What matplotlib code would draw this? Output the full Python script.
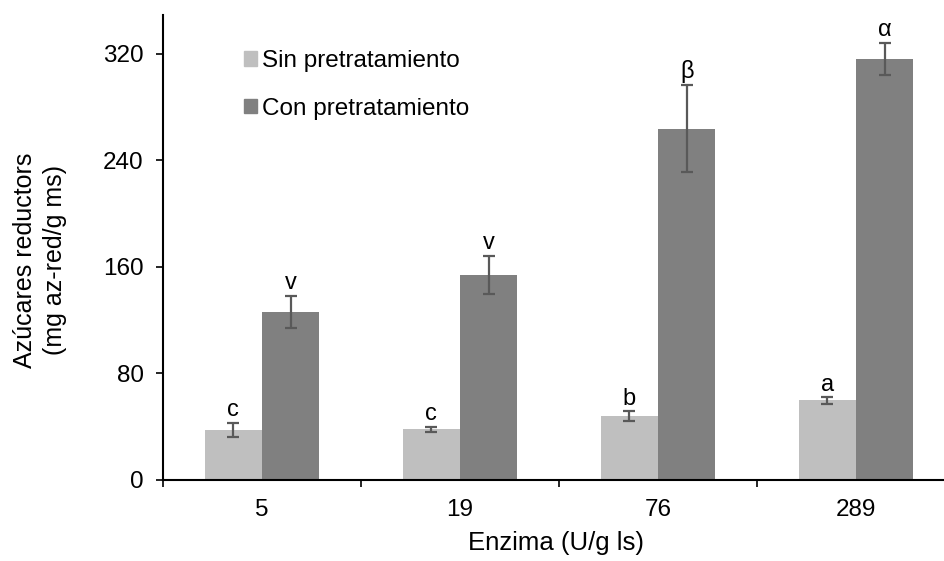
import numpy as np
import matplotlib
matplotlib.use("Agg")
import matplotlib.pyplot as plt
from matplotlib.patches import Patch

plt.rcParams['font.family'] = ['Liberation Sans', 'DejaVu Sans']

# data
enzima = ['5', '19', '76', '289']
sin_pre = [37.5, 38.0, 48.0, 59.7]
sin_err = [5.5, 2.1, 3.7, 2.5]
sin_letters = ['c', 'c', 'b', 'a']
con_pre = [126.2, 153.7, 263.6, 315.8]
con_err = [12.2, 14.2, 32.6, 11.9]
con_letters = ['v', 'v', 'β', 'α']
y_ticks = [0, 80, 160, 240, 320]

light = '#bfbfbf'
dark = '#808080'
err_col = '#595959'

fig = plt.figure(figsize=(9.44, 5.61), dpi=100)
ax = fig.add_axes([163 / 944, 1 - 480 / 561, (955 - 163) / 944, (480 - 15) / 561])

x = np.arange(len(enzima))
w = 0.29
ekw = dict(ecolor=err_col, elinewidth=1.6, capsize=4.3, capthick=1.6)
ax.bar(x - w / 2, sin_pre, w, color=light, yerr=sin_err, error_kw=ekw, label='Sin pretratamiento')
ax.bar(x + w / 2, con_pre, w, color=dark, yerr=con_err, error_kw=ekw, label='Con pretratamiento')

# significance letters above the error bars
for i in range(len(enzima)):
    ax.annotate(sin_letters[i], (x[i] - w / 2, sin_pre[i] + sin_err[i]), xytext=(0, 1),
                textcoords='offset points', ha='center', va='bottom', fontsize=17)
    ax.annotate(con_letters[i], (x[i] + w / 2, con_pre[i] + con_err[i]), xytext=(0, 1.5),
                textcoords='offset points', ha='center', va='bottom', fontsize=17)

ax.set_xlim(-0.5, len(enzima) - 0.5)
ax.set_ylim(0, 349)
ax.set_yticks(y_ticks)
ax.tick_params(axis='y', direction='out', length=5, width=1.2, labelsize=17.5, pad=9)

# category boundaries as major ticks, labels on minor ticks
ax.set_xticks(np.arange(-0.5, len(enzima), 1.0))
ax.set_xticklabels([])
ax.set_xticks(x, minor=True)
ax.set_xticklabels(enzima, minor=True)
ax.tick_params(axis='x', which='major', direction='out', length=5, width=1.2)
ax.tick_params(axis='x', which='minor', length=0, labelsize=17.5, pad=14)

for s in ['top', 'right']:
    ax.spines[s].set_visible(False)
for s in ['left', 'bottom']:
    ax.spines[s].set_linewidth(1.5)

fig.text(556 / 944, 1 - 543 / 561, 'Enzima (U/g ls)', fontsize=18.5, ha='center', va='center')
fig.text(40 / 944, 1 - 260 / 561, 'Azúcares reductors\n(mg az-red/g ms)', fontsize=18,
         rotation=90, ha='center', va='center', multialignment='center', linespacing=1.3)

handles = [Patch(color=light, label='Sin pretratamiento'), Patch(color=dark, label='Con pretratamiento')]
ax.legend(handles=handles, loc='upper left', bbox_to_anchor=(244 / 944, 1 - 50 / 561),
          bbox_transform=fig.transFigure, frameon=False, fontsize=17.5,
          handlelength=0.55, handleheight=0.55, handletextpad=0.2, labelspacing=1.05,
          borderaxespad=0, borderpad=0)

fig.savefig('out.png', dpi=100)
